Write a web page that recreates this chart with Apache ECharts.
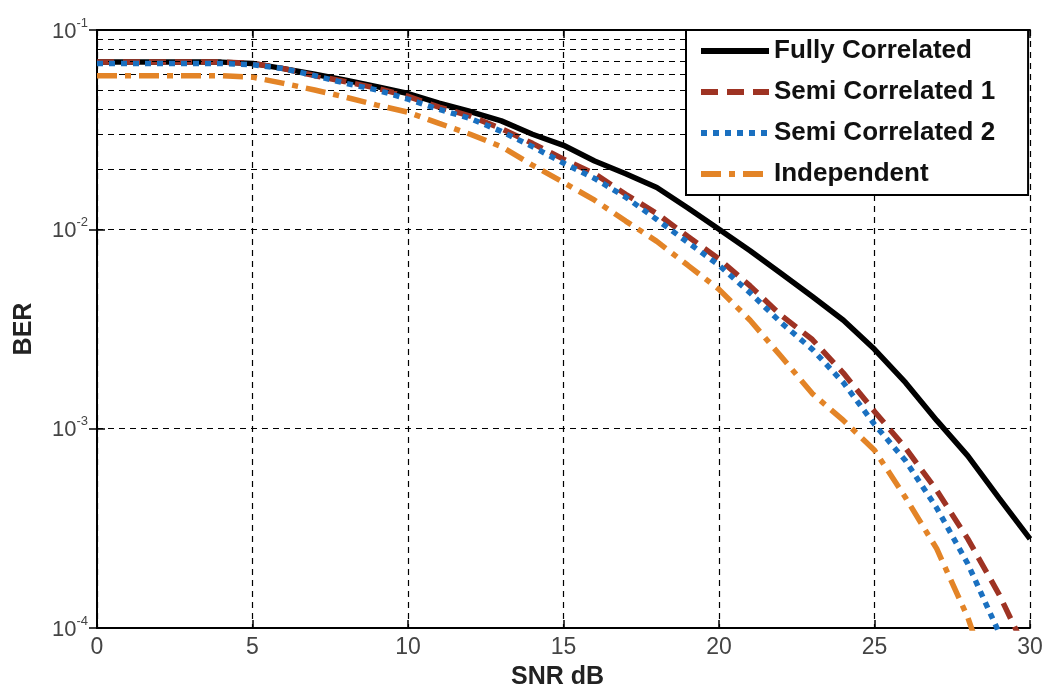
<!DOCTYPE html>
<html>
<head>
<meta charset="utf-8">
<script src="https://cdn.jsdelivr.net/npm/echarts@6/dist/echarts.min.js"></script>
<style>
  html, body { margin: 0; padding: 0; background: #fff; }
  #chart { width: 1046px; height: 691px; }
</style>
</head>
<body>
<div id="chart"></div>
<script>
// SNR points (dB)
const snr = [0, 1, 2, 3, 4, 5, 6, 7, 8, 9, 10, 11, 12, 13, 14, 15, 16, 17, 18, 19, 20, 21, 22, 23, 24, 25, 26, 27, 28, 29, 30];

// BER values
const fullyCorrelated = [0.069, 0.069, 0.069, 0.069, 0.069, 0.068, 0.064, 0.060, 0.056, 0.052, 0.048, 0.043, 0.039, 0.035, 0.030, 0.0264, 0.022, 0.019, 0.0162, 0.0128, 0.0100, 0.0078, 0.0060, 0.0046, 0.0035, 0.0025, 0.0017, 0.00110, 0.00073, 0.00045, 0.00028];
const semiCorrelated1 = [0.069, 0.069, 0.069, 0.069, 0.069, 0.068, 0.064, 0.059, 0.055, 0.051, 0.0465, 0.041, 0.037, 0.032, 0.027, 0.0225, 0.019, 0.015, 0.012, 0.0092, 0.0071, 0.0052, 0.0037, 0.0028, 0.0019, 0.00122, 0.00080, 0.00049, 0.00028, 0.000148, 0.00007];
const semiCorrelated2 = [0.068, 0.068, 0.068, 0.068, 0.068, 0.067, 0.064, 0.059, 0.054, 0.050, 0.045, 0.040, 0.036, 0.031, 0.026, 0.0215, 0.018, 0.0145, 0.0112, 0.0086, 0.0066, 0.0048, 0.0034, 0.0025, 0.0017, 0.00105, 0.00069, 0.00040, 0.00021, 0.000095, 0.00004];
const independent = [0.059, 0.059, 0.059, 0.059, 0.059, 0.058, 0.054, 0.050, 0.046, 0.042, 0.0387, 0.034, 0.030, 0.026, 0.021, 0.0172, 0.014, 0.011, 0.0087, 0.0066, 0.0050, 0.0035, 0.0023, 0.0015, 0.0011, 0.00078, 0.00045, 0.00025, 0.000113, 0.00004, 0.000015];

// minor grid values on the log axis (2..9 per decade)
const minorGrid = [];
[1e-4, 1e-3, 1e-2].forEach(d => {
  for (let m = 2; m <= 9; m++) minorGrid.push(+(m * d).toPrecision(3));
});

const pair = (ys) => snr.map((x, i) => [x, ys[i]]);

const gridDash = { color: '#000', width: 1.2, type: [6, 5] };
const tickFont = { fontFamily: 'Liberation Sans', fontSize: 23, color: '#444' };

const chart = echarts.init(document.getElementById('chart'));

const option = {
  backgroundColor: '#fff',
  animation: false,
  grid: { left: 97, right: 16, top: 30, bottom: 63, containLabel: false, outerBoundsMode: 'none' },
  xAxis: [
    {
      type: 'value',
      min: 0,
      max: 30,
      interval: 5,
      name: 'SNR dB',
      nameLocation: 'middle',
      nameGap: 37,
      nameMoveOverlap: false,
      nameTextStyle: { fontFamily: 'Liberation Sans', fontSize: 25, fontWeight: 'bold', color: '#222', padding: [0, 12, 0, 0] },
      axisLine: { lineStyle: { color: '#000', width: 2 } },
      axisTick: { inside: true, length: 8, lineStyle: { color: '#000', width: 1.5 } },
      axisLabel: Object.assign({ margin: 8 }, tickFont),
      splitLine: { show: true, lineStyle: gridDash }
    },
    {
      type: 'value',
      position: 'top',
      min: 0,
      max: 30,
      interval: 5,
      axisLine: { show: true, lineStyle: { color: '#000', width: 2 } },
      axisTick: { show: true, inside: true, length: 8, lineStyle: { color: '#000', width: 1.5 } },
      axisLabel: { show: false },
      splitLine: { show: false }
    }
  ],
  yAxis: [
    {
      type: 'log',
      logBase: 10,
      min: 1e-4,
      max: 1e-1,
      name: 'BER',
      nameLocation: 'middle',
      nameGap: 60,
      nameMoveOverlap: false,
      nameRotate: 90,
      nameTextStyle: { fontFamily: 'Liberation Sans', fontSize: 25, fontWeight: 'bold', color: '#222' },
      axisLine: { show: true, lineStyle: { color: '#000', width: 2 } },
      axisTick: { inside: true, length: 8, lineStyle: { color: '#000', width: 1.5 } },
      axisLabel: {
        margin: 9,
        formatter: (v) => '{b|10}{s|' + Math.round(Math.log10(v)) + '}',
        rich: {
          b: { fontFamily: 'Liberation Sans', fontSize: 22, color: '#444', padding: [3, 0, 0, 0] },
          s: { fontFamily: 'Liberation Sans', fontSize: 13, color: '#444', padding: [0, 0, 14, 0] }
        }
      },
      splitLine: { show: true, lineStyle: gridDash }
    },
    {
      type: 'log',
      logBase: 10,
      position: 'right',
      min: 1e-4,
      max: 1e-1,
      axisLine: { show: true, lineStyle: { color: '#000', width: 2 } },
      axisTick: { show: true, inside: true, length: 8, lineStyle: { color: '#000', width: 1.5 } },
      axisLabel: { show: false },
      splitLine: { show: false }
    }
  ],
  legend: {
    data: ['Fully Correlated', 'Semi Correlated 1', 'Semi Correlated 2', 'Independent'],
    orient: 'vertical',
    left: 686,
    top: 30,
    z: 20,
    itemWidth: 68,
    itemHeight: 14,
    itemGap: 15,
    padding: [8, 33, 8, 12],
    backgroundColor: '#fff',
    borderColor: '#000',
    borderWidth: 2,
    borderRadius: 0,
    itemStyle: { opacity: 0 },
    lineStyle: { width: 6 },
    textStyle: { fontFamily: 'Liberation Sans', fontSize: 26, fontWeight: 'bold', color: '#111', lineHeight: 24 }
  },
  series: [
    {
      name: '_grid',
      type: 'line',
      data: [],
      silent: true,
      z: 1,
      markLine: {
        silent: true,
        symbol: 'none',
        label: { show: false },
        lineStyle: gridDash,
        data: minorGrid.map(v => ({ yAxis: v }))
      }
    },
    {
      name: 'Fully Correlated',
      type: 'line',
      data: pair(fullyCorrelated),
      symbol: 'none',
      z: 3,
      lineStyle: { color: '#000', width: 5.5 },
      itemStyle: { color: '#000' }
    },
    {
      name: 'Semi Correlated 1',
      type: 'line',
      data: pair(semiCorrelated1),
      symbol: 'none',
      z: 4,
      lineStyle: { color: '#9e3323', width: 5.5, type: [17, 9] },
      itemStyle: { color: '#9e3323' }
    },
    {
      name: 'Semi Correlated 2',
      type: 'line',
      data: pair(semiCorrelated2),
      symbol: 'none',
      z: 5,
      lineStyle: { color: '#1a70c0', width: 5.5, type: [6, 6] },
      itemStyle: { color: '#1a70c0' }
    },
    {
      name: 'Independent',
      type: 'line',
      data: pair(independent),
      symbol: 'none',
      z: 6,
      lineStyle: { color: '#e38427', width: 5.5, type: [20, 8, 6, 8] },
      itemStyle: { color: '#e38427' }
    }
  ]
};

chart.setOption(option);
</script>
</body>
</html>
